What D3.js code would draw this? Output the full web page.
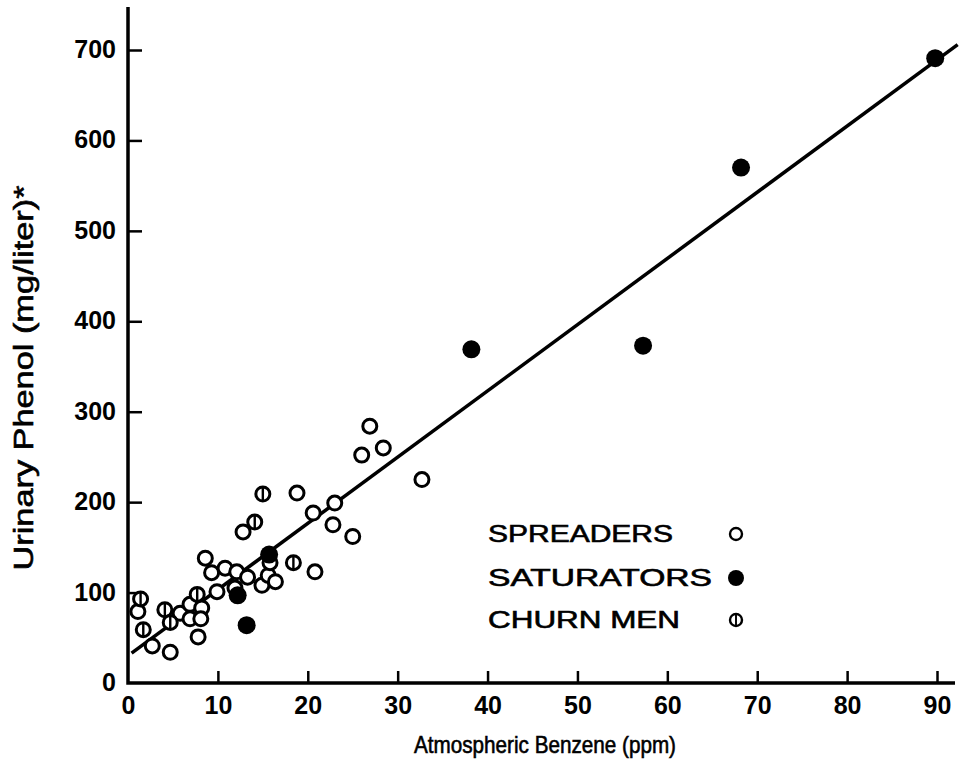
<!DOCTYPE html>
<meta charset="utf-8">
<title>Urinary phenol vs atmospheric benzene</title>
<style>
    body {
        margin: 0;
        background: #fff;
    }

    text {
        font-family: "Liberation Sans", Arial, Helvetica, sans-serif;
        fill: #000;
    }

    .tick text {
        font-family: "Liberation Sans Narrow", "Liberation Sans", Arial, sans-serif;
        font-size: 25px;
        font-weight: bold;
    }

    .tick line {
        stroke: #000;
        stroke-width: 2.5px;
    }

    .axisline {
        stroke: #000;
        stroke-width: 3.5px;
        fill: none;
    }

    .lbl {
        stroke: #000;
        stroke-width: 0.6px;
    }
</style>

<body>
    <div id="chart"></div>
</body>

<script src="https://d3js.org/d3.v7.min.js"></script>

<script type="text/javascript">
    // values: [ppm, mg/liter]
    var spreaders = [
        [1.1, 79], [2.7, 41], [4.7, 34], [5.8, 77], [6.9, 87], [8.2, 83],
        [6.9, 71], [8.1, 71], [7.8, 51], [8.6, 138], [9.3, 122], [9.9, 101],
        [10.8, 127], [12.1, 123], [11.9, 105], [13.3, 117], [14.9, 108],
        [15.6, 119], [15.8, 133], [16.4, 112], [20.8, 123], [12.8, 167],
        [18.8, 210], [20.6, 188], [23.0, 199], [22.8, 175], [25.0, 162],
        [26.0, 252], [26.9, 284], [28.4, 260], [32.7, 225]
    ];
    var saturators = [
        [89.8, 691], [68.2, 570], [38.2, 369], [57.3, 373],
        [13.2, 64], [12.2, 97], [15.7, 142]
    ];
    var churnMen = [
        [1.4, 93], [1.7, 59], [4.1, 81], [4.7, 67], [7.7, 98],
        [15.0, 209], [14.1, 178], [18.4, 133]
    ];
    // fitted line, end points
    var fitLine = [[0.4, 33], [92.3, 706]];

    var xTicks = [0, 10, 20, 30, 40, 50, 60, 70, 80, 90];
    var yTicks = [0, 100, 200, 300, 400, 500, 600, 700];
    var legendItems = ["SPREADERS", "SATURATORS", "CHURN MEN"];

    var width = 977, height = 779;

    var svg = d3.select("#chart").append("svg")
        .attr("width", width)
        .attr("height", height);

    var x = d3.scaleLinear().domain([0, 90]).range([128, 937]);
    var y = d3.scaleLinear().domain([0, 700]).range([683, 50]);

    // axis ticks and labels
    var xAxis = d3.axisBottom(x).tickValues(xTicks).tickSizeInner(-12).tickSizeOuter(0).tickPadding(13);
    var gx = svg.append("g").attr("transform", "translate(0," + y(0) + ")").call(xAxis);
    gx.select(".domain").remove();
    gx.selectAll(".tick").filter(function (d) { return d === 0; }).select("line").remove();

    var yAxis = d3.axisLeft(y).tickValues(yTicks).tickSizeInner(-14).tickSizeOuter(0).tickPadding(12);
    var gy = svg.append("g").attr("transform", "translate(" + x(0) + ",0)").call(yAxis);
    gy.select(".domain").remove();
    gy.selectAll(".tick").filter(function (d) { return d === 0; }).select("line").remove();
    gy.selectAll(".tick text").attr("dy", "0.3em");

    // axis lines run past the tick range
    svg.append("path").attr("class", "axisline")
        .attr("d", "M" + x(0) + "," + 7 + "V" + y(0) + "H" + 955);

    // fitted line
    svg.append("path")
        .attr("d", d3.line().x(function (d) { return x(d[0]); }).y(function (d) { return y(d[1]); })(fitLine))
        .attr("stroke", "#000")
        .attr("stroke-width", 3.5)
        .attr("fill", "none");

    // markers
    function ring(g, r, sw) {
        g.append("circle").attr("r", r).attr("fill", "#fff").attr("stroke", "#000").attr("stroke-width", sw);
    }
    function dot(g, r) {
        g.append("circle").attr("r", r).attr("fill", "#000");
    }
    function churn(g, r, sw) {
        ring(g, r, sw);
        g.append("line").attr("y1", -r).attr("y2", r).attr("stroke", "#000").attr("stroke-width", sw * 0.8);
    }

    var pts = svg.append("g");
    function place(data, draw) {
        data.forEach(function (d) {
            var g = pts.append("g").attr("transform", "translate(" + x(d[0]) + "," + y(d[1]) + ")");
            draw(g);
        });
    }
    place(spreaders, function (g) { ring(g, 7, 3); });
    place(churnMen, function (g) { churn(g, 7, 3); });
    place(saturators, function (g) { dot(g, 9); });

    // legend
    var leg = svg.append("g");
    var legY = [534, 578, 620];
    var legLen = [185, 224, 192];
    legendItems.forEach(function (name, i) {
        leg.append("text")
            .attr("class", "lbl")
            .attr("x", 488)
            .attr("y", legY[i])
            .attr("dy", "0.36em")
            .attr("font-size", 23)
            .attr("textLength", legLen[i])
            .attr("lengthAdjust", "spacingAndGlyphs")
            .text(name);
        var g = leg.append("g").attr("transform", "translate(736," + legY[i] + ")");
        if (i === 0) ring(g, 6, 2.4);
        else if (i === 1) dot(g, 8);
        else churn(g, 6, 2.4);
    });

    // axis titles
    svg.append("text")
        .attr("class", "lbl")
        .attr("x", 545)
        .attr("y", 745)
        .attr("dy", "0.35em")
        .attr("text-anchor", "middle")
        .attr("font-size", 24)
        .attr("textLength", 262)
        .attr("lengthAdjust", "spacingAndGlyphs")
        .text("Atmospheric Benzene (ppm)");

    svg.append("text")
        .attr("class", "lbl")
        .attr("transform", "translate(24,378) rotate(-90)")
        .attr("dy", "0.35em")
        .attr("text-anchor", "middle")
        .attr("font-size", 27)
        .attr("textLength", 385)
        .attr("lengthAdjust", "spacingAndGlyphs")
        .text("Urinary Phenol (mg/liter)*");
</script>
